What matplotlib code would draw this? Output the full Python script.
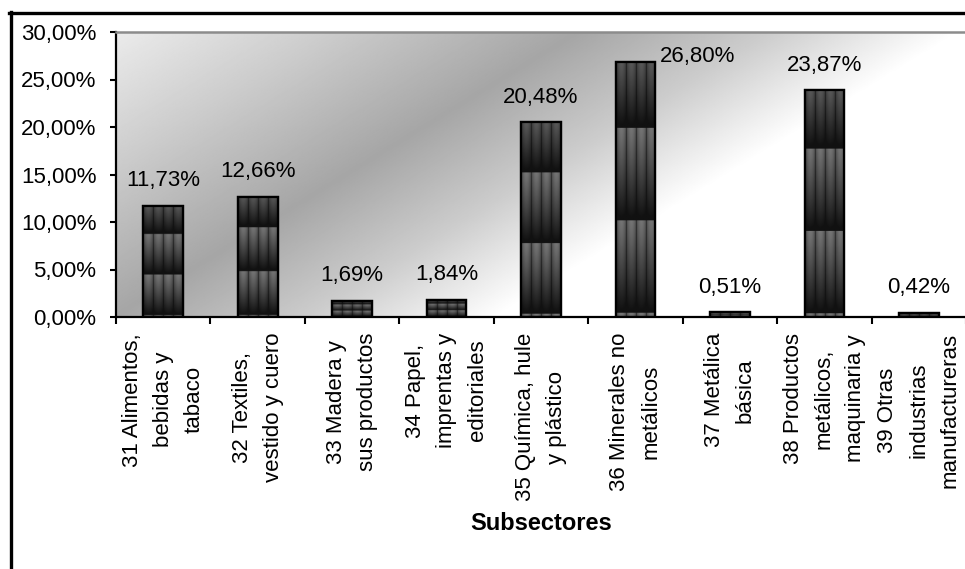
import numpy as np
import matplotlib
matplotlib.use("Agg")
import matplotlib.pyplot as plt
from matplotlib.lines import Line2D
from matplotlib.ticker import FuncFormatter, MultipleLocator

plt.rcParams['font.family'] = ['Liberation Sans', 'DejaVu Sans']

# Participación por subsector
subsectores = [
    "31 Alimentos,\nbebidas y\ntabaco",
    "32 Textiles,\nvestido y cuero",
    "33 Madera y\nsus productos",
    "34 Papel,\nimprentas y\neditoriales",
    "35 Química, hule\ny plástico",
    "36 Minerales no\nmetálicos",
    "37 Metálica\nbásica",
    "38 Productos\nmetálicos,\nmaquinaria y",
    "39 Otras\nindustrias\nmanufactureras",
]
participacion = [11.73, 12.66, 1.69, 1.84, 20.48, 26.80, 0.51, 23.87, 0.42]
y_ticks = [0, 5, 10, 15, 20, 25, 30]

W, H, DPI = 965, 569, 100
fig = plt.figure(figsize=(W / DPI, H / DPI), dpi=DPI)
fig.patch.set_facecolor("white")

ax_l, ax_r, ax_t, ax_b = 116, 966, 32, 317
ax = fig.add_axes([ax_l / W, 1 - ax_b / H, (ax_r - ax_l) / W, (ax_b - ax_t) / H])

n = len(participacion)
ax.set_xlim(0, n)
ax.set_ylim(y_ticks[0], y_ticks[-1])

# diagonal grey fill of the plotting area
gy, gx = np.mgrid[0:300, 0:600]
px = ax_l + gx / 599 * (ax_r - ax_l)
py = ax_t + gy / 299 * (ax_b - ax_t)
s = 0.524 * px + 0.852 * py
shade = np.interp(s, [80, 200, 330, 430, 530], [0.93, 0.80, 0.65, 0.80, 1.0])
ax.imshow(shade, cmap="gray", vmin=0, vmax=1, extent=[0, 1, 0, 1],
          transform=ax.transAxes, aspect="auto", zorder=0,
          interpolation="bilinear")

# bars with a striped, banded texture
x = np.arange(n) + 0.5
bars = ax.bar(x, participacion, width=0.42, facecolor="#3c3c3c",
              edgecolor="black", linewidth=1.6, zorder=2)


def bar_texture(rows=240, cols=48, stripes=4, periods=2.75):
    u = (np.arange(cols) / cols * stripes) % 1.0
    col = 0.24 + 0.22 * np.sin(np.pi * u) ** 0.7
    col[(u < 0.07)] = 0.16
    p = (np.arange(rows) / rows * periods + 0.3) % 1.0
    row = 1.0 - 0.88 * p ** 1.1
    tex = row[:, None] * col[None, :]
    return np.clip(tex, 0.07, 1.0)


tex = bar_texture()
for b in bars:
    x0, w, h = b.get_x(), b.get_width(), b.get_height()
    im = ax.imshow(tex, cmap="gray", vmin=0, vmax=1,
                   extent=[x0, x0 + w, 0, h], aspect="auto",
                   interpolation="bilinear", zorder=2.5)
    im.set_clip_path(b)
    edge = plt.Rectangle((x0, 0), w, h, fill=False, edgecolor="black",
                         linewidth=1.6, zorder=3)
    ax.add_patch(edge)


def pct(v):
    return f"{v:.2f}%".replace(".", ",")


# value labels
for xi, v in zip(x, participacion):
    if v > 25:
        ax.annotate(pct(v), xy=(xi + 0.21, v), xytext=(3, 4),
                    textcoords="offset points", ha="left", va="center",
                    fontsize=16, zorder=4)
    else:
        ax.annotate(pct(v), xy=(xi, v), xytext=(0, 10.5),
                    textcoords="offset points", ha="center", va="bottom",
                    fontsize=16, zorder=4)

# axes styling
ax.set_xticks(np.arange(n + 1))
ax.set_xticklabels([])
ax.yaxis.set_major_locator(MultipleLocator(5))
ax.yaxis.set_major_formatter(FuncFormatter(lambda v, _: pct(v)))
ax.tick_params(axis="y", labelsize=16, length=4.5, width=1.5, pad=9.5,
               direction="out")
ax.tick_params(axis="x", length=5, width=1.5, direction="out")
for side in ("left", "bottom"):
    ax.spines[side].set_color("black")
    ax.spines[side].set_linewidth(1.6)
ax.spines["top"].set_color("#8c8c8c")
ax.spines["top"].set_linewidth(1.8)
ax.spines["right"].set_visible(False)

# category labels
for xi, lab in zip(x, subsectores):
    ax.annotate(lab, xy=(xi, 0), xycoords=("data", "axes fraction"),
                xytext=(0, -11.5), textcoords="offset points",
                rotation=90, ha="center", va="top", multialignment="center",
                fontsize=16, linespacing=1.62)

fig.text((ax_l + ax_r) / 2 / W, 1 - 524 / H, "Subsectores", ha="center",
         va="center", fontsize=17, fontweight="bold")

# chart frame
fig.add_artist(Line2D([9 / W, 1], [1 - 13 / H, 1 - 13 / H],
                      color="black", linewidth=2.4, transform=fig.transFigure))
fig.add_artist(Line2D([10.5 / W, 10.5 / W], [0, 1 - 12 / H],
                      color="black", linewidth=2.4, transform=fig.transFigure))

fig.savefig("out.png", dpi=DPI)
